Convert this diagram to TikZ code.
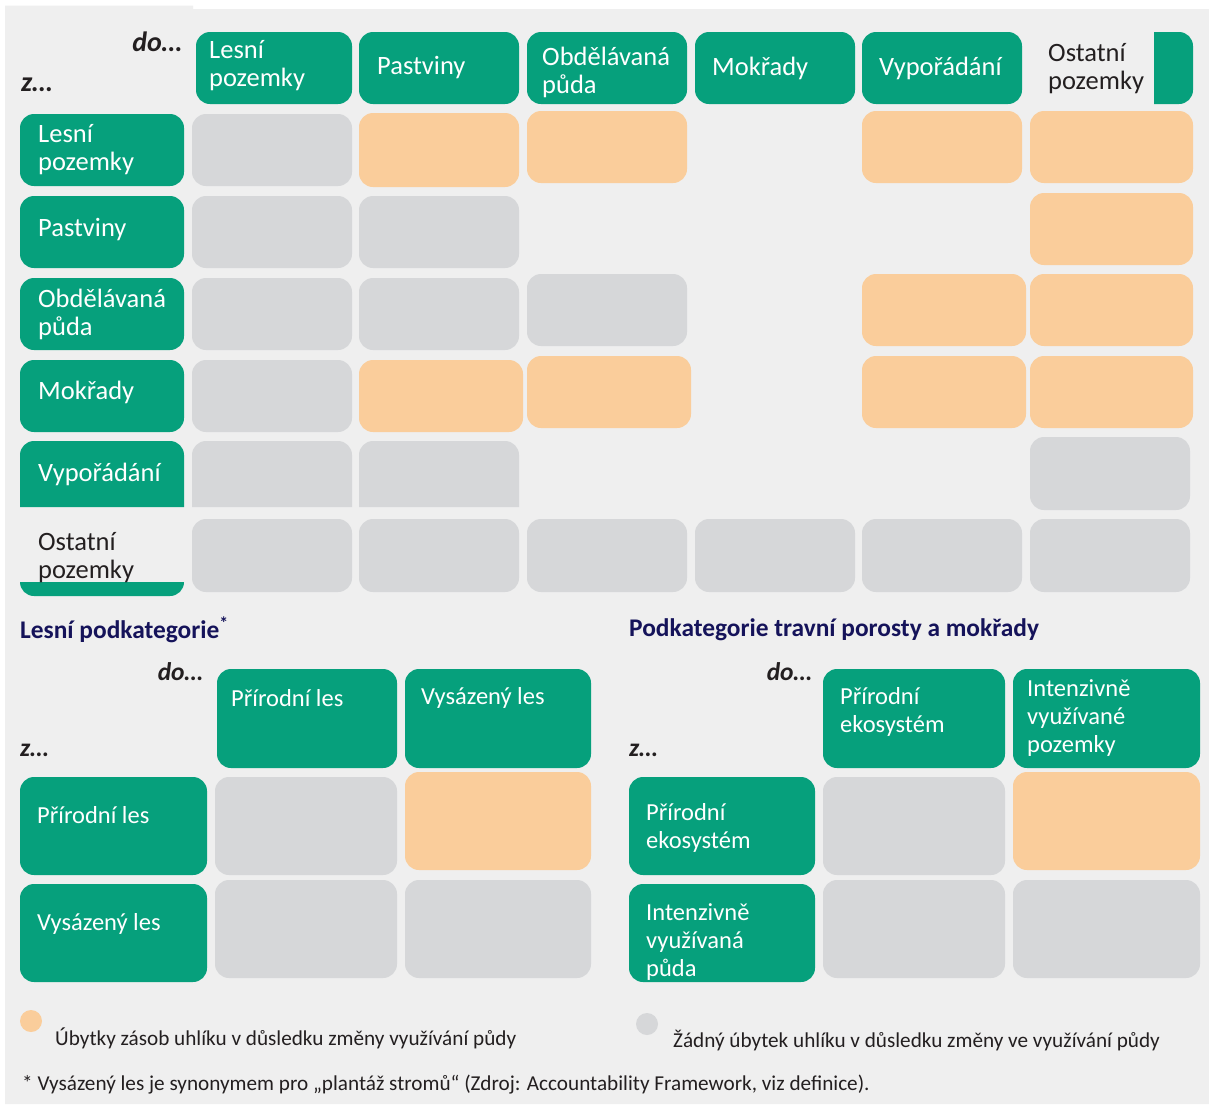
\documentclass[tikz,border=0pt]{standalone}
\usepackage{fontspec}
\setmainfont{Carlito}
\definecolor{tgreen}{HTML}{06A07C}
\definecolor{corange}{HTML}{FACD9B}
\definecolor{cgray}{HTML}{D6D7D9}
\definecolor{bgc}{HTML}{EFEFEF}
\definecolor{dtext}{HTML}{231F20}
\definecolor{navy}{HTML}{15135A}
\tikzset{
  gbox/.style={fill=tgreen, draw=none, rounded corners=14pt, inner sep=0pt, outer sep=0pt},
  gcell/.style={fill=cgray, draw=none, rounded corners=14pt, inner sep=0pt, outer sep=0pt},
  ocell/.style={fill=corange, draw=none, rounded corners=14pt, inner sep=0pt, outer sep=0pt},
  htxt/.style={anchor=west, align=left, inner sep=0pt, text=white, font=\fontsize{26.5}{28}\selectfont},
  htxtd/.style={htxt, text=dtext},
  ltxt/.style={anchor=west, align=left, inner sep=0pt, text=white, font=\fontsize{24.5}{28}\selectfont},
  dotxt/.style={inner sep=0pt, text=dtext, font=\fontsize{28}{30}\selectfont\bfseries\itshape},
  dotxts/.style={inner sep=0pt, text=dtext, font=\fontsize{25.5}{28}\selectfont\bfseries\itshape},
  ttl/.style={anchor=west, inner sep=0pt, text=navy, font=\fontsize{25.4}{28}\selectfont\bfseries},
  legtxt/.style={anchor=west, inner sep=0pt, text=dtext, font=\fontsize{21.2}{24}\selectfont},
}
\newcommand\bx[6]{\node[#1, minimum width={(#4-#2)*1pt}, minimum height={(#5-#3)*1pt}] (#6) at ({(#2+#4)/2},{(#3+#5)/2}) {};}
\begin{document}
\begin{tikzpicture}[x=1pt,y=-1pt]
\useasboundingbox (0,0) rectangle (1209,1104);
\fill[white] (0,0) rectangle (1209,1104);
\fill[bgc] (5,5.5) -- (193,5.5) -- (193,9) -- (1209,9) -- (1209,1104) -- (5,1104) -- cycle;

% ---------- top headers ----------
\node[dotxt, anchor=east] (do1) at (182,42) {do…};
\node[dotxt, anchor=west] (z1) at (21,85) {z…};
\bx{gbox}{196}{32}{352}{104}{h1}
\bx{gbox}{359}{32}{519}{104}{h2}
\bx{gbox}{527}{32}{687}{104}{h3}
\bx{gbox}{695}{32}{855}{104}{h4}
\bx{gbox}{862}{32}{1022}{104}{h5}
\fill[tgreen] (1154,104) -- (1154,32) [rounded corners=14pt] -- (1193,32) -- (1193,104) [sharp corners] -- cycle;
\node[htxt] (th1) at (209,66) {Lesní\\pozemky};
\node[htxt] (th2) at (377,68) {Pastviny};
\node[htxt] (th3) at (542,72) {Obdělávaná\\půda};
\node[htxt] (th4) at (712,68) {Mokřady};
\node[htxt] (th5) at (879,68) {Vypořádání};
\node[htxtd] (th6) at (1048,69) {Ostatní\\pozemky};

% ---------- row headers ----------
\bx{gbox}{20}{114}{184}{186}{r1}
\bx{gbox}{20}{196}{184}{268}{r2}
\bx{gbox}{20}{278}{184}{350}{r3}
\bx{gbox}{20}{360}{184}{432}{r4}
\fill[tgreen] (20,507) [rounded corners=14pt] -- (20,441) -- (184,441) [sharp corners] -- (184,507) -- cycle;
\fill[tgreen] (20,582) [rounded corners=14pt] -- (20,596) -- (184,596) [sharp corners] -- (184,582) -- cycle;
\node[htxt] (tr1) at (38,150) {Lesní\\pozemky};
\node[htxt] (tr2) at (38,230) {Pastviny};
\node[htxt] (tr3) at (38,314) {Obdělávaná\\půda};
\node[htxt] (tr4) at (38,392) {Mokřady};
\node[htxt] (tr5) at (38,474) {Vypořádání};
\node[htxtd] (tr6) at (38,558) {Ostatní\\pozemky};

% ---------- cells ----------
\bx{gcell}{192}{114}{352}{186}{c11}
\bx{ocell}{359}{113}{519}{187}{c12}
\bx{ocell}{527}{111}{687}{183}{c13}
\bx{ocell}{862}{111}{1022}{183}{c15}
\bx{ocell}{1030}{111}{1193}{183}{c16}

\bx{gcell}{192}{196}{352}{268}{c21}
\bx{gcell}{359}{196}{519}{268}{c22}
\bx{ocell}{1030}{193}{1193}{265}{c26}

\bx{gcell}{192}{278}{352}{350}{c31}
\bx{gcell}{359}{278}{519}{350}{c32}
\bx{gcell}{527}{274}{687}{346}{c33}
\bx{ocell}{862}{274}{1026}{346}{c35}
\bx{ocell}{1030}{274}{1193}{346}{c36}

\bx{gcell}{192}{360}{352}{432}{c41}
\bx{ocell}{359}{360}{523}{432}{c42}
\bx{ocell}{527}{356}{691}{428}{c43}
\bx{ocell}{862}{356}{1026}{428}{c45}
\bx{ocell}{1030}{356}{1193}{428}{c46}

\fill[cgray] (192,507) [rounded corners=14pt] -- (192,441) -- (352,441) [sharp corners] -- (352,507) -- cycle;
\fill[cgray] (359,507) [rounded corners=14pt] -- (359,441) -- (519,441) [sharp corners] -- (519,507) -- cycle;
\bx{gcell}{1030}{437}{1190}{510}{c56}

\bx{gcell}{192}{519}{352}{592}{c61}
\bx{gcell}{359}{519}{519}{592}{c62}
\bx{gcell}{527}{519}{687}{592}{c63}
\bx{gcell}{695}{519}{855}{592}{c64}
\bx{gcell}{862}{519}{1022}{592}{c65}
\bx{gcell}{1030}{519}{1190}{592}{c66}

% ---------- lower left ----------
\node[ttl] (tl) at (20,630) {Lesní podkategorie\textsuperscript{*}};
\node[dotxts, anchor=east] (do2) at (203,672) {do…};
\node[dotxts, anchor=west] (z2) at (20,750) {z…};
\bx{gbox}{217}{669}{397}{768}{lh1}
\bx{gbox}{405}{669}{591}{768}{lh2}
\bx{gbox}{20}{777}{207}{875}{lr1}
\bx{gbox}{20}{884}{207}{982}{lr2}
\bx{gcell}{215}{777}{397}{875}{lc11}
\bx{ocell}{405}{772}{591}{870}{lc12}
\bx{gcell}{215}{880}{397}{978}{lc21}
\bx{gcell}{405}{880}{591}{978}{lc22}
\node[ltxt] (tlh1) at (231,698) {Přírodní les};
\node[ltxt] (tlh2) at (421,698) {Vysázený les};
\node[ltxt] (tlr1) at (37,815) {Přírodní les};
\node[ltxt] (tlr2) at (37,924) {Vysázený les};

% ---------- lower right ----------
\node[ttl] (tr) at (629,630) {Podkategorie travní porosty a mokřady};
\node[dotxts, anchor=east] (do3) at (812,672) {do…};
\node[dotxts, anchor=west] (z3) at (629,750) {z…};
\bx{gbox}{823}{669}{1005}{768}{rh1}
\bx{gbox}{1013}{669}{1200}{768}{rh2}
\bx{gbox}{629}{777}{815}{875}{rr1}
\bx{gbox}{629}{884}{815}{982}{rr2}
\bx{gcell}{823}{777}{1005}{875}{rc11}
\bx{ocell}{1013}{772}{1200}{870}{rc12}
\bx{gcell}{823}{880}{1005}{978}{rc21}
\bx{gcell}{1013}{880}{1200}{978}{rc22}
\node[ltxt] (trh1) at (840,712) {Přírodní\\ekosystém};
\node[ltxt] (trh2) at (1027,718) {Intenzivně\\využívané\\pozemky};
\node[ltxt] (trr1) at (646,828) {Přírodní\\ekosystém};
\node[ltxt] (trr2) at (646,942) {Intenzivně\\využívaná\\půda};

% ---------- legend ----------
\node[circle, fill=corange, minimum size=22pt, inner sep=0pt] (lego) at (31,1021) {};
\node[legtxt] (legot) at (55,1038) {Úbytky zásob uhlíku v důsledku změny využívání půdy};
\node[circle, fill=cgray, minimum size=22pt, inner sep=0pt] (legg) at (647,1024) {};
\node[legtxt] (leggt) at (673,1041) {Žádný úbytek uhlíku v důsledku změny ve využívání půdy};
\node[legtxt] (foot) at (22,1085) {* Vysázený les je synonymem pro „plantáž stromů“ (Zdroj: Accountability Framework, viz definice).};
\end{tikzpicture}
\end{document}
